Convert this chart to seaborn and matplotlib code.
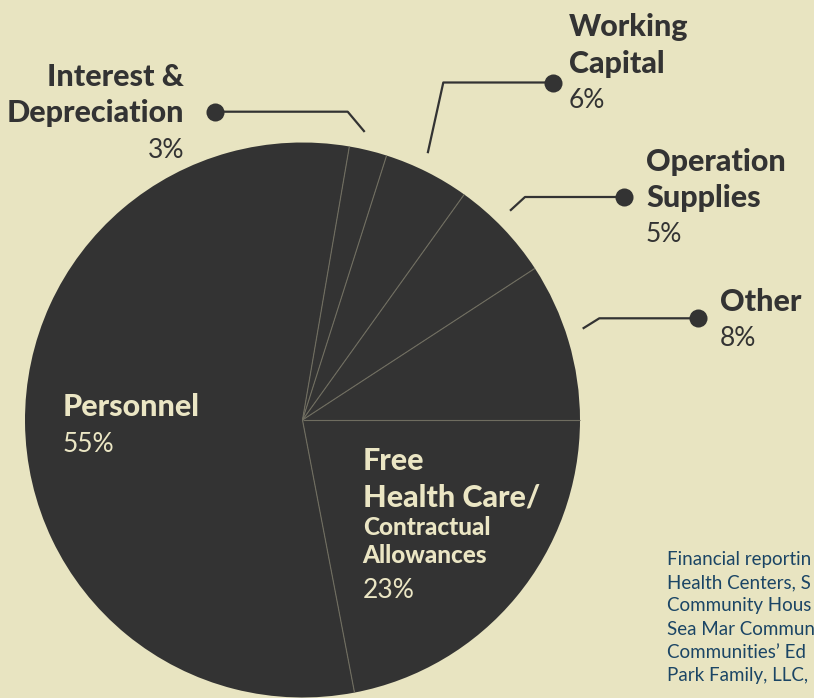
import numpy as np
import matplotlib
matplotlib.use("Agg")
import matplotlib.pyplot as plt
import seaborn as sns

# data: wedges counter-clockwise from 3 o'clock
categories = ["Other", "Operation Supplies", "Working Capital",
              "Interest & Depreciation", "Personnel",
              "Free Health Care/Contractual Allowances"]
shares = [9.2, 5.9, 5.0, 2.2, 55.7, 22.0]      # wedge sizes as drawn
pct_labels = [8, 5, 6, 3, 55, 23]               # printed percentages

# footnote as far as it shows in the frame
footnote = [
    "Financial reportin",
    "Health Centers, S",
    "Community Hous",
    "Sea Mar Commun",
    "Communities\u2019 Ed",
    "Park Family, LLC,",
]

# colours
BG = "#e8e4c1"
DARK = "#333333"
LIGHT = "#ebe6c4"
DIVIDER = "#6f6d60"
BLUE = "#1b4565"

W, H = 814, 698
CX, CY, R = 302.5, H - 420, 277.5

sns.set_theme(style="white", rc={"axes.facecolor": BG, "figure.facecolor": BG})
plt.rcParams["font.family"] = ["Lato", "DejaVu Sans"]

fig = plt.figure(figsize=(W / 100, H / 100), dpi=100)
ax = fig.add_axes([0, 0, 1, 1])

wedges, _ = ax.pie(shares, colors=[DARK] * len(shares), startangle=0,
                   counterclock=True, center=(CX, CY), radius=R,
                   wedgeprops=dict(linewidth=0))

# thin dividers between wedges
for w in wedges:
    a = np.deg2rad(w.theta1)
    ax.plot([CX, CX + R * np.cos(a)], [CY, CY + R * np.sin(a)],
            color=DIVIDER, lw=0.8, solid_capstyle="butt")

ax.set_xlim(0, W)
ax.set_ylim(0, H)
ax.set_aspect("equal")
ax.axis("off")

BIG = 22
PCT = 19
SMALL = 17.5
HEAVY = "black"

# outside labels: (wedge index, text lines, text x, align, baselines, dot, elbow)
outside = [
    (0, ["Other"], 720, "left", [310.7, 345.7], (698.3, 318.3), (599.3, 318.3)),
    (1, ["Operation", "Supplies"], 646, "left", [170.7, 206.7, 242.3], (624, 197), (525, 197)),
    (2, ["Working", "Capital"], 569, "left", [36, 73, 108], (552.7, 82.5), (443.3, 82.5)),
    (3, ["Interest &", "Depreciation"], 184, "right", [86, 121.7, 158.3], (215, 111.7), (347.7, 111.7)),
]

for idx, lines, tx, ha, bases, dot, elbow in outside:
    w = wedges[idx]
    mid = np.deg2rad((w.theta1 + w.theta2) / 2 + 1.5)
    sx, sy = CX + R * 1.062 * np.cos(mid), CY + R * 1.062 * np.sin(mid)
    ax.plot([sx, elbow[0], dot[0]], [sy, H - elbow[1], H - dot[1]],
            color=DARK, lw=1.6, solid_capstyle="butt")
    ax.plot(dot[0], H - dot[1], "o", color=DARK, ms=13, mec="none")
    for line, b in zip(lines, bases):
        ax.text(tx, H - b, line, ha=ha, va="baseline", fontsize=BIG,
                fontweight=HEAVY, color=DARK)
    ax.text(tx, H - bases[-1], f"{pct_labels[idx]}%", ha=ha, va="baseline",
            fontsize=PCT, color=DARK)

# inside labels
ax.text(62.7, H - 416, "Personnel", ha="left", va="baseline",
        fontsize=BIG, fontweight=HEAVY, color=LIGHT)
ax.text(62.7, H - 451.7, f"{pct_labels[4]}%", ha="left", va="baseline",
        fontsize=PCT, color=LIGHT)

ax.text(362.7, H - 470, "Free", ha="left", va="baseline",
        fontsize=BIG, fontweight=HEAVY, color=LIGHT)
ax.text(362.7, H - 506, "Health Care/", ha="left", va="baseline",
        fontsize=BIG, fontweight=HEAVY, color=LIGHT)
ax.text(362.7, H - 535, "Contractual", ha="left", va="baseline",
        fontsize=SMALL, fontweight=HEAVY, color=LIGHT)
ax.text(362.7, H - 563.3, "Allowances", ha="left", va="baseline",
        fontsize=SMALL, fontweight=HEAVY, color=LIGHT)
ax.text(362.7, H - 598.3, f"{pct_labels[5]}%", ha="left", va="baseline",
        fontsize=PCT, color=LIGHT)

# footnote (cut by the frame in the original)
for i, line in enumerate(footnote):
    ax.text(667, H - (565 + i * 23.2), line, ha="left", va="baseline",
            fontsize=13.5, color=BLUE)

fig.savefig("out.png", dpi=100, facecolor=BG)
